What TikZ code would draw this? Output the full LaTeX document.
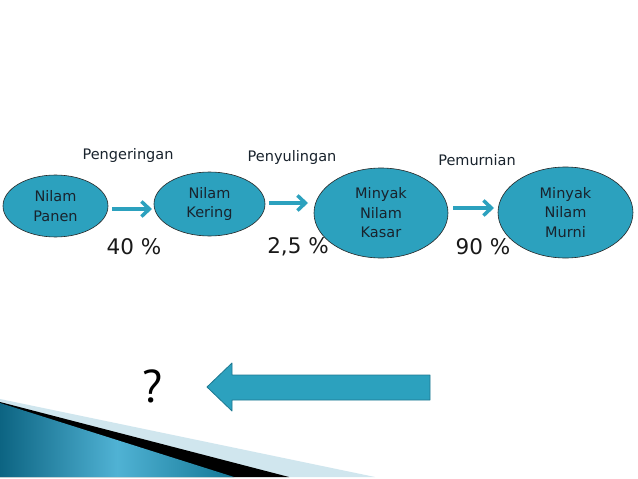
\documentclass[tikz,border=0pt]{standalone}
\usepackage{fontspec}
\setmainfont{DejaVu Sans}
\newfontfamily\qfont{PT Sans}
\usetikzlibrary{arrows.meta,shapes.geometric,shadings}
\definecolor{teal1}{RGB}{44,161,190}
\definecolor{tealdark}{RGB}{30,120,145}
\definecolor{lightband}{RGB}{208,230,238}
\definecolor{gradA}{RGB}{12,100,130}
\definecolor{gradB}{RGB}{80,178,212}
\definecolor{gradC}{RGB}{20,120,150}
\definecolor{txt}{RGB}{25,35,45}
\tikzset{
  stage/.style={ellipse, draw=black!85, line width=0.6pt, fill=teal1, inner sep=0pt, align=center, font=\fontsize{14.5}{19.5}\selectfont, text=txt},
  flow/.style={draw=teal1, line width=3.5pt, -{Straight Barb[length=8pt,width=15pt,line width=3.5pt]}},
  steplabel/.style={font=\fontsize{14.5}{17}\selectfont, text=txt},
  pct/.style={font=\fontsize{21.5}{24}\selectfont, text=black!90}
}
\begin{document}
\begin{tikzpicture}[x=1pt,y=-1pt]
\useasboundingbox (0,0) rectangle (638,479);
\fill[white] (0,0) rectangle (638,479);
% bottom-left decoration
\fill[lightband] (0,399) -- (375,477) -- (0,477) -- cycle;
\fill[black] (0,402) -- (289,477) -- (0,477) -- cycle;
\shade[left color=gradA, right color=gradC, middle color=gradB] (0,403) -- (234,477) -- (0,477) -- cycle;
% stages
\node[stage, minimum width=105pt, minimum height=62pt] (panen) at (55.5,206) {Nilam\\Panen};
\node[stage, minimum width=111pt, minimum height=64pt] (kering) at (209.5,204) {Nilam\\Kering};
\node[stage, minimum width=134pt, minimum height=90pt] (kasar) at (381,213) {Minyak\\Nilam\\Kasar};
\node[stage, minimum width=135pt, minimum height=91pt] (murni) at (565.5,212.5) {Minyak\\Nilam\\Murni};
% arrows
\coordinate (a1s) at (112,209); \coordinate (a1e) at (152,209);
\coordinate (a2s) at (269,203); \coordinate (a2e) at (308,203);
\coordinate (a3s) at (453,208); \coordinate (a3e) at (494,208);
\draw[flow] (a1s) -- (a1e);
\draw[flow] (a2s) -- (a2e);
\draw[flow] (a3s) -- (a3e);
% labels
\node[steplabel] (l1) at (128,155) {Pengeringan};
\node[steplabel] (l2) at (292,157) {Penyulingan};
\node[steplabel] (l3) at (477,160) {Pemurnian};
\node[pct] (p1) at (134,247) {40 \%};
\node[pct] (p2) at (298,247) {2,5 \%};
\node[pct] (p3) at (483,247) {90 \%};
% bottom
\node[font=\qfont\fontsize{46}{50}\selectfont] (q) at (153,386) {?};
\draw[draw=tealdark, line width=0.8pt, fill=teal1, line join=round]
  (207,387) -- (232,363) -- (232,375) -- (430,375) -- (430,400) -- (232,400) -- (232,411) -- cycle;
\end{tikzpicture}
\end{document}
